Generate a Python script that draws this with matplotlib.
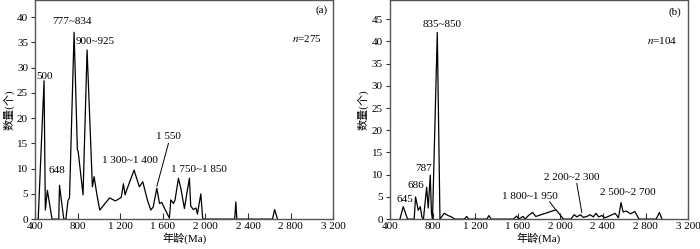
import matplotlib
matplotlib.use("Agg")
import matplotlib.pyplot as plt

FAM = ['Liberation Serif', 'Noto Sans CJK SC']
plt.rcParams['font.family'] = FAM
plt.rcParams['mathtext.fontset'] = 'stix'

# Panel (a)
ages_a = [430, 485, 497, 516, 560, 623, 630, 670, 690, 710, 724, 767, 798, 805, 851, 889, 939, 955, 980,
          1008, 1100, 1155, 1210, 1230, 1246, 1265, 1330, 1380, 1412, 1443, 1455, 1487, 1510, 1544, 1569,
          1590, 1615, 1662, 1675, 1700, 1715, 1747, 1772, 1803, 1825, 1850, 1862, 1887, 1912, 1925, 1957,
          1975, 2275, 2286, 2295, 2630, 2650, 2677]
counts_a = [0, 27.4, 1.8, 5.7, 0, 0, 6.7, 0, 0, 3.7, 4.2, 37, 13.7, 13.5, 4.8, 33.5, 6.4, 8.4, 5,
            1.8, 4.2, 3.6, 4.3, 7, 4.8, 6, 9.7, 6.4, 7.4, 4.8, 3.8, 1.8, 2.4, 6.1, 3.1,
            3.3, 2.2, 0.2, 3.8, 3.1, 3.8, 8.1, 5.8, 2.1, 5, 8.1, 2.6, 1.9, 2.2, 1, 5,
            0, 0, 3.4, 0, 0, 1.9, 0]

# Panel (b)
ages_b = [494, 525, 566, 628, 641, 666, 685, 700, 715, 745, 760, 779, 790, 800, 845, 870, 910, 947, 978,
          1010, 1100, 1120, 1140, 1310, 1330, 1350, 1560, 1590, 1610, 1650, 1670, 1700, 1740, 1770, 1960,
          2030, 2100, 2130, 2155, 2190, 2215, 2250, 2280, 2310, 2335, 2360, 2390, 2420, 2450, 2515, 2546,
          2570, 2590, 2620, 2660, 2700, 2740, 2900, 2930, 2955]
counts_b = [0, 2.8, 0, 0, 5, 2, 2.8, 0.5, 0, 7.2, 2.5, 9.9, 1.5, 0, 42, 0, 1.3, 0.8, 0.5,
            0, 0, 0.6, 0, 0, 0.8, 0, 0, 0.7, 0, 0.6, 0, 0.8, 1.5, 0.6, 2.1,
            0, 0, 1, 0.5, 1, 0.4, 0.6, 1, 0.5, 1.3, 0.5, 0.8, 0.3, 0.6, 1.3, 0.3,
            3.7, 1.6, 1.8, 1.2, 1.7, 0, 0, 1.5, 0]

xticks = [400, 800, 1200, 1600, 2000, 2400, 2800, 3200]
xticklabels = ['400', '800', '1 200', '1 600', '2 000', '2 400', '2 800', '3 200']
yticks_a = [0, 5, 10, 15, 20, 25, 30, 35, 40]
yticks_b = [0, 5, 10, 15, 20, 25, 30, 35, 40, 45]

fig = plt.figure(figsize=(7.0, 2.49), dpi=100)
axa = fig.add_axes([0.050, 0.120, 0.426, 0.878])
axb = fig.add_axes([0.557, 0.120, 0.426, 0.878])

frame_col = '#555555'
for ax, ages, counts, yt, ytop in [(axa, ages_a, counts_a, yticks_a, 43.3),
                                   (axb, ages_b, counts_b, yticks_b, 49.2)]:
    ax.plot(ages, counts, color='black', lw=0.9)
    ax.set_xlim(400, 3200)
    ax.set_ylim(0, ytop)
    ax.set_xticks(xticks)
    ax.set_xticklabels(xticklabels)
    ax.set_yticks(yt)
    ax.tick_params(axis='x', direction='in', length=4, width=0.8, labelsize=8, pad=2, color='#333333')
    ax.tick_params(axis='y', direction='out', length=3, width=0.8, labelsize=8, pad=2, color='#333333')
    for s in ax.spines.values():
        s.set_color(frame_col)
        s.set_linewidth(1.0)
    ax.set_xlabel('年龄(Ma)', fontsize=8, labelpad=1, family=FAM)
    ax.set_ylabel('数量(个)', fontsize=8, labelpad=2, family=FAM)

fs = 8
# annotations (a)
axa.text(490, 28.2, '500', ha='center', va='center', fontsize=fs)
axa.text(752, 39.2, '777~834', ha='center', va='center', fontsize=fs)
axa.text(785, 35.2, '900~925', ha='left', va='center', fontsize=fs)
axa.text(607, 9.7, '648', ha='center', va='center', fontsize=fs)
axa.text(1293, 11.7, '1 300~1 400', ha='center', va='center', fontsize=fs)
axa.text(1653, 16.3, '1 550', ha='center', va='center', fontsize=fs)
axa.plot([1544, 1653], [6.5, 15.0], color='black', lw=0.7)
axa.text(1942, 9.9, '1 750~1 850', ha='center', va='center', fontsize=fs)
axa.text(3095, 41.3, '(a)', ha='center', va='center', fontsize=fs)
axa.text(2950, 35.8, '$n$=275', ha='center', va='center', fontsize=fs)

# annotations (b)
axb.text(888, 43.9, '835~850', ha='center', va='center', fontsize=fs)
axb.text(3080, 46.6, '(b)', ha='center', va='center', fontsize=fs)
axb.text(2955, 40.3, '$n$=104', ha='center', va='center', fontsize=fs)
axb.text(541, 4.5, '645', ha='center', va='center', fontsize=fs)
axb.text(645, 7.5, '686', ha='center', va='center', fontsize=fs)
axb.text(713, 11.4, '787', ha='center', va='center', fontsize=fs)
axb.text(1716, 5.2, '1 800~1 950', ha='center', va='center', fontsize=fs)
axb.plot([1900, 1957], [3.9, 2.1], color='black', lw=0.7)
axb.text(2103, 9.3, '2 200~2 300', ha='center', va='center', fontsize=fs)
axb.plot([2155, 2202], [8.0, 1.5], color='black', lw=0.7)
axb.text(2634, 5.9, '2 500~2 700', ha='center', va='center', fontsize=fs)

fig.savefig('out.png', dpi=100)
